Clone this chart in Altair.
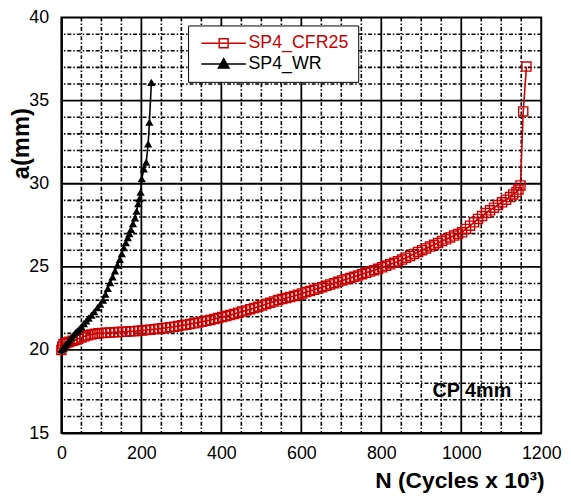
import altair as alt
import pandas as pd

# ---- data ----
red_x = [0, 2, 5, 10, 15, 20, 28, 35, 42, 50, 58, 66, 75, 84, 93, 102, 112, 122, 132, 142,
         152, 162, 172, 182, 192, 202, 212, 222, 232, 242, 252, 262, 272, 282, 292, 302, 312,
         322, 332, 342, 352, 362, 372, 382, 392, 402, 412, 422, 432, 442, 452, 462, 472, 482,
         492, 502, 512, 522, 532, 542, 552, 562, 572, 582, 592, 602, 612, 622, 632, 642, 652,
         662, 672, 682, 692, 702, 712, 722, 732, 742, 752, 762, 772, 782, 792, 802, 812, 822,
         832, 842, 852, 862, 872, 882, 892, 902, 912, 922, 932, 942, 952, 962, 972, 982, 992,
         1002, 1012, 1022, 1032, 1042, 1052, 1062, 1072, 1082, 1092, 1102, 1112, 1122, 1130,
         1138, 1143, 1148, 1155, 1163]
red_y = [20.0, 20.2, 20.35, 20.4, 20.45, 20.5, 20.55, 20.6, 20.68, 20.75, 20.82, 20.88, 20.93,
         20.97, 21.0, 21.02, 21.03, 21.05, 21.06, 21.08, 21.09, 21.1, 21.12, 21.13, 21.15,
         21.17, 21.2, 21.22, 21.25, 21.28, 21.31, 21.34, 21.37, 21.4, 21.44, 21.48, 21.52,
         21.56, 21.6, 21.65, 21.7, 21.75, 21.8, 21.86, 21.92, 21.98, 22.04, 22.1, 22.17, 22.24,
         22.31, 22.38, 22.45, 22.52, 22.6, 22.68, 22.76, 22.84, 22.92, 23.0, 23.06, 23.12,
         23.18, 23.25, 23.32, 23.4, 23.48, 23.55, 23.62, 23.7, 23.78, 23.86, 23.94, 24.02,
         24.1, 24.18, 24.26, 24.33, 24.4, 24.48, 24.56, 24.64, 24.72, 24.8, 24.88, 24.97,
         25.06, 25.15, 25.24, 25.33, 25.44, 25.55, 25.66, 25.78, 25.9, 26.0, 26.11, 26.22,
         26.33, 26.44, 26.55, 26.66, 26.77, 26.88, 26.98, 27.08, 27.28, 27.48, 27.68, 27.88,
         28.06, 28.24, 28.4, 28.56, 28.72, 28.88, 29.04, 29.2, 29.36, 29.5, 29.65, 29.9,
         34.35, 37.05]
blk_x = [0, 4, 8, 12, 16, 20, 25, 30, 35, 40, 45, 50, 56, 62, 68, 75, 82, 90, 97, 104, 110,
         116, 122, 128, 134, 140, 146, 151, 156, 161, 166, 170, 174, 179, 184, 188, 192, 195,
         198, 201, 206, 212, 217, 220, 225]
blk_y = [20.0, 20.1, 20.22, 20.35, 20.47, 20.6, 20.75, 20.9, 21.05, 21.15, 21.27, 21.4,
         21.58, 21.75, 21.92, 22.1, 22.3, 22.55, 22.75, 23.0, 23.35, 23.7, 24.05, 24.4, 24.75,
         25.1, 25.45, 25.8, 26.15, 26.45, 26.75, 27.0, 27.25, 27.6, 27.95, 28.35, 28.8, 29.1,
         29.5, 30.3, 30.9, 31.3, 32.4, 33.7, 36.1]
assert len(red_x) == len(red_y) and len(blk_x) == len(blk_y)

series_names = ["SP4_CFR25", "SP4_WR"]
series_colors = ["#cc0000", "#000000"]
series_fills = ["white", "#000000"]
legend_paths = ["M-5,0H5M-1,-1H1V1H-1Z", "M-5,0H5M0,-1.2L1.2,0.9L-1.2,0.9Z"]

x_ticks = [0, 200, 400, 600, 800, 1000, 1200]
y_ticks = [15, 20, 25, 30, 35, 40]
x_major = [200, 400, 600, 800, 1000]
y_major = [20, 25, 30, 35]
x_minor = [v for v in range(50, 1200, 50) if v % 200]
y_minor = [v for v in range(16, 40) if v % 5]

note_text = ["CP 4mm"]
note_x = [928]
note_y = [17.55]

FONT = "Liberation Sans"

red = pd.DataFrame({"x": red_x, "y": red_y})
blk = pd.DataFrame({"x": blk_x, "y": blk_y})
leg = pd.DataFrame({"x": [red_x[0], blk_x[0]], "y": [red_y[0], blk_y[0]], "series": series_names})
note = pd.DataFrame({"x": note_x, "y": note_y, "t": note_text})

xscale = alt.Scale(domain=[0, 1200], nice=False, zero=False)
yscale = alt.Scale(domain=[15, 40], nice=False, zero=False)
xaxis = alt.Axis(values=x_ticks, format="d", grid=False, ticks=False, labelFlush=False,
                 labelFont=FONT, labelFontSize=18, labelColor="black", labelPadding=12,
                 domainColor="black", domainWidth=2,
                 title="N (Cycles x 10³)", titleFont=FONT, titleFontSize=23,
                 titleFontWeight="bold", titleAnchor="end", titleX=488, titleAlign="right",
                 titlePadding=7, titleColor="black")
yaxis = alt.Axis(values=y_ticks, format="d", grid=False, ticks=False, labelFlush=False,
                 labelFont=FONT, labelFontSize=18, labelColor="black", labelPadding=13,
                 domainColor="black", domainWidth=2,
                 title="a(mm)", titleFont=FONT, titleFontSize=24, titleFontWeight="bold",
                 titleColor="black", titleX=-28, titleY=127)


def X(field="x"):
    return alt.X(f"{field}:Q", scale=xscale, axis=xaxis)


def Y(field="y"):
    return alt.Y(f"{field}:Q", scale=yscale, axis=yaxis)


note_layer = alt.Chart(note).mark_text(align="left", baseline="middle", font=FONT,
                                        fontSize=20, fontWeight="bold", color="black").encode(
    x=X(), y=Y(), text="t:N")

DASH = [4, 2, 1.5, 2]
minor_x = alt.Chart(pd.DataFrame({"x": x_minor})).mark_rule(
    color="black", strokeWidth=1.6, strokeDash=DASH).encode(x=X())
minor_y = alt.Chart(pd.DataFrame({"y": y_minor})).mark_rule(
    color="black", strokeWidth=1.6, strokeDash=DASH).encode(y=Y())
major_x = alt.Chart(pd.DataFrame({"x": x_major})).mark_rule(
    color="black", strokeWidth=1.8).encode(x=X())
major_y = alt.Chart(pd.DataFrame({"y": y_major})).mark_rule(
    color="black", strokeWidth=1.8).encode(y=Y())

red_line = alt.Chart(red).mark_line(color="#cc0000", strokeWidth=1.6).encode(x=X(), y=Y())
red_pts = alt.Chart(red).mark_point(shape="square", size=85, filled=False, color="#cc0000",
                                    strokeWidth=1.4, opacity=1).encode(x=X(), y=Y())
blk_line = alt.Chart(blk).mark_line(color="black", strokeWidth=1.6).encode(x=X(), y=Y())
blk_pts = alt.Chart(blk).mark_point(shape="triangle-up", size=70, filled=True, color="black",
                                    opacity=1).encode(x=X(), y=Y())

legend = alt.Legend(title=None, orient="none", legendX=128, legendY=8,
                    fillColor="white", strokeColor="black", padding=9,
                    labelFont=FONT, labelFontSize=18, labelLimit=300,
                    labelColor={"expr": "datum.value === 'SP4_CFR25' ? '#cc0000' : '#000000'"},
                    symbolSize=81, symbolStrokeWidth=1.5, symbolOffset=18, labelOffset=16,
                    rowPadding=3, symbolOpacity=1)

legend_layer = alt.Chart(leg).mark_point(opacity=0, size=81, strokeWidth=1.5).encode(
    x=X(), y=Y(),
    stroke=alt.Stroke("series:N", scale=alt.Scale(domain=series_names, range=series_colors),
                      legend=legend),
    fill=alt.Fill("series:N", scale=alt.Scale(domain=series_names, range=series_fills),
                  legend=legend),
    shape=alt.Shape("series:N", scale=alt.Scale(domain=series_names, range=legend_paths),
                    legend=legend),
)

chart = alt.layer(note_layer, minor_x, minor_y, major_x, major_y,
                  red_line, red_pts, blk_line, blk_pts, legend_layer).properties(
    width=485, height=420,
    autosize=alt.AutoSizeParams(type="none"),
    padding={"left": 54, "top": 7, "right": 22, "bottom": 64},
    background="white",
).configure_view(stroke="black", strokeWidth=2)

chart.save("out.html", embed_options={"renderer": "svg", "actions": False})
